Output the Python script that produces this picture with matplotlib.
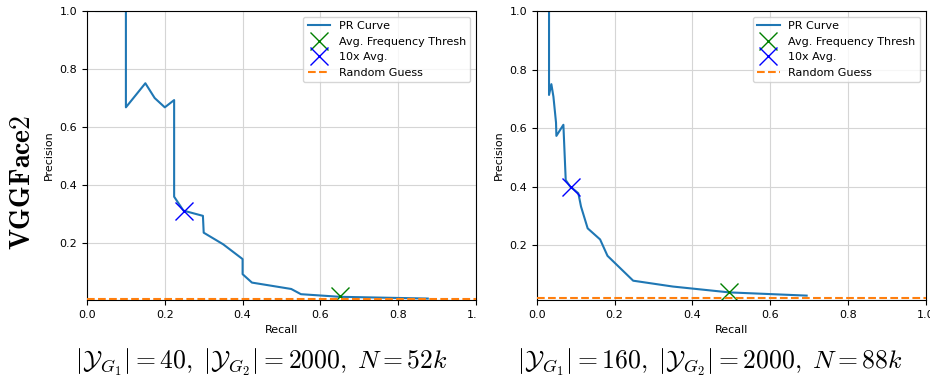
import matplotlib
matplotlib.use("Agg")
import matplotlib.pyplot as plt
from matplotlib.transforms import Bbox, TransformedBbox

# ---- data ----
left_recall = [0.024, 0.10, 0.10, 0.15, 0.174, 0.20, 0.224, 0.224, 0.248, 0.298, 0.30,
               0.35, 0.40, 0.40, 0.424, 0.525, 0.55, 0.65, 0.876]
left_precision = [1.0, 1.0, 0.668, 0.751, 0.70, 0.668, 0.693, 0.36, 0.312, 0.294, 0.236,
                  0.196, 0.145, 0.093, 0.064, 0.042, 0.024, 0.015, 0.009]
left_avg = (0.65, 0.018)
left_10x = (0.25, 0.311)
left_random = 0.0062
left_ybottom = 0.0040

right_recall = [0.015, 0.0317, 0.0317, 0.0377, 0.043, 0.0497, 0.0506, 0.0686, 0.0746,
                0.086, 0.107, 0.114, 0.131, 0.163, 0.182, 0.248, 0.35, 0.495, 0.694]
right_precision = [1.0, 1.0, 0.713, 0.750, 0.707, 0.618, 0.573, 0.611, 0.422,
                   0.40, 0.377, 0.331, 0.257, 0.219, 0.163, 0.078, 0.058, 0.038, 0.027]
right_avg = (0.494, 0.038)
right_10x = (0.087, 0.40)
right_random = 0.02
right_ybottom = 0.012

captions = [r"$|\mathcal{Y}_{G_1}| = 40,\;|\mathcal{Y}_{G_2}| = 2000,\;N = 52k$",
            r"$|\mathcal{Y}_{G_1}| = 160,\;|\mathcal{Y}_{G_2}| = 2000,\;N = 88k$"]
row_label = r"$\mathbf{VGGFace2}$"
xticks = [0.0, 0.2, 0.4, 0.6, 0.8, 1.0]
yticks = [0.2, 0.4, 0.6, 0.8, 1.0]

plt.rcParams['mathtext.fontset'] = 'cm'
W, H = 930, 379
fig = plt.figure(figsize=(W / 100, H / 100), dpi=100)

def fx(px):
    return px / W

def fy(py):
    return 1 - py / H

panels = [
    (87, left_recall, left_precision, left_avg, left_10x, left_random, left_ybottom),
    (536.7, right_recall, right_precision, right_avg, right_10x, right_random, right_ybottom),
]
axes = []
for x0, rec, prec, avg, tenx, rnd, yb in panels:
    ax = fig.add_axes([fx(x0), fy(300), 389 / W, 289 / H])
    ax.plot(rec, prec, color='#1f77b4', lw=1.5, label='PR Curve')
    ax.plot([avg[0]], [avg[1]], 'x', color='green', ms=13, mew=1.0,
            label='Avg. Frequency Thresh')
    ax.plot([tenx[0]], [tenx[1]], 'x', color='blue', ms=13, mew=1.0, label='10x Avg.')
    ax.axhline(rnd, color='#ff7f0e', ls='--', lw=1.5, label='Random Guess', zorder=3)
    ax.set_xlim(0, 1)
    ax.set_ylim(yb, 1.0)
    ax.set_xticks(xticks)
    ax.set_yticks(yticks)
    ax.tick_params(labelsize=8)
    ax.grid(True, color='#d5d5d5', lw=0.8)
    ax.set_axisbelow(True)
    ax.set_xlabel('Recall', fontsize=8)
    ax.set_ylabel('Precision', fontsize=8)
    ax.legend(loc='upper right', fontsize=8, framealpha=0.8)
    axes.append(ax)

# clip left panel's rightmost tick label like the reference
clip = TransformedBbox(Bbox([[0, 0], [fx(477), 1]]), fig.transFigure)
for lab in axes[0].get_xticklabels():
    lab.set_clip_on(True)
    lab.set_clip_box(clip)

fig.text(fx(261), fy(362), captions[0], fontsize=18.5, ha='center', va='center')
fig.text(fx(710), fy(362), captions[1], fontsize=18.5, ha='center', va='center')
fig.text(fx(22), fy(182), row_label, fontsize=20, rotation=90, ha='center', va='center')

fig.savefig('out.png', dpi=100)
